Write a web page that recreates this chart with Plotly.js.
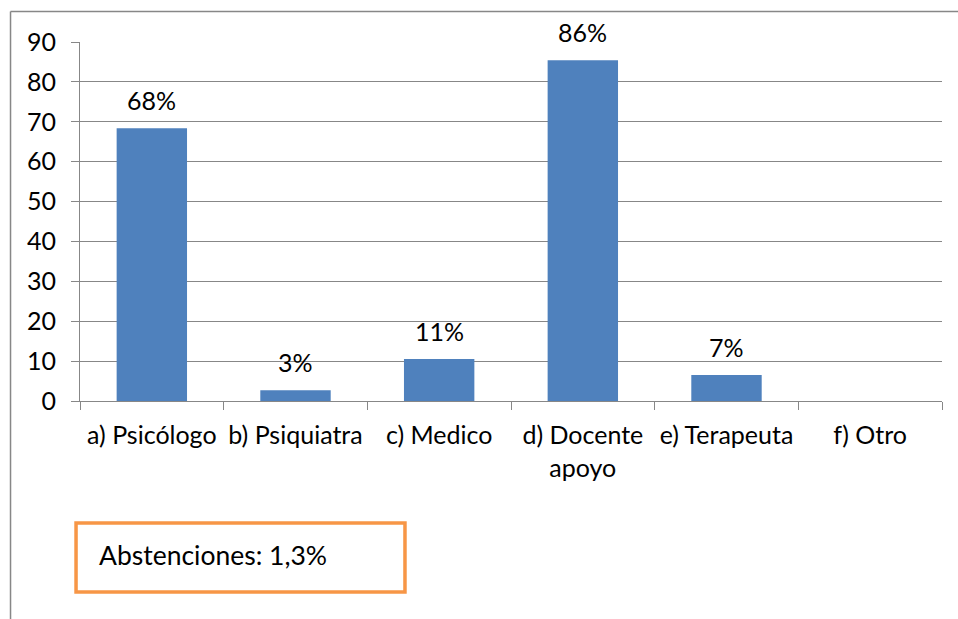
<!DOCTYPE html>
<html>
<head>
<meta charset="utf-8">
<script src="https://cdn.plot.ly/plotly-3.0.1.min.js"></script>
<style>html,body{margin:0;padding:0;background:#fff;}#chart{width:958px;height:619px;}</style>
</head>
<body>
<div id="chart"></div>
<script>
const categories = ["a) Psicólogo", "b) Psiquiatra", "c) Medico", "d) Docente<br>apoyo", "e) Terapeuta", "f) Otro"];
const values = [68.4, 2.7, 10.5, 85.4, 6.5, 0];
const labels = ["68%", "3%", "11%", "86%", "7%", ""];
const yTicks = [0, 10, 20, 30, 40, 50, 60, 70, 80, 90];
const noteText = "Abstenciones: 1,3%";

const FONT = "Lato, 'Open Sans', sans-serif";
const GRAY = "#878787";
const FS = 25;

const trace = {
  type: "bar",
  x: categories,
  y: values,
  marker: {color: "#4F81BD"},
  width: 0.49,
  hoverinfo: "skip"
};

const annotations = categories.map((c, i) => ({
  x: c, y: values[i], xref: "x", yref: "y",
  text: labels[i], showarrow: false,
  yanchor: "bottom", yshift: 11,
  font: {family: FONT, size: FS, color: "#000"}
})).filter(a => a.text !== "");

annotations.push({
  xref: "paper", yref: "paper",
  x: 0.0197, y: -0.429, xanchor: "left", yanchor: "middle",
  text: noteText, showarrow: false,
  font: {family: FONT, size: 26.5, color: "#000"}
});

const layout = {
  width: 958, height: 619,
  margin: {l: 80, r: 16, t: 42, b: 218},
  paper_bgcolor: "#fff", plot_bgcolor: "#fff",
  showlegend: false,
  font: {family: FONT, size: FS, color: "#000"},
  xaxis: {
    type: "category",
    tickson: "boundaries",
    ticks: "outside", ticklen: 8, tickcolor: GRAY, tickwidth: 1,
    showline: true, linecolor: GRAY, linewidth: 1,
    showgrid: false, zeroline: false,
    ticklabelstandoff: 12,
    tickfont: {family: FONT, size: FS, color: "#000"},
    fixedrange: true
  },
  yaxis: {
    range: [0, 90],
    tickvals: yTicks,
    ticks: "outside", ticklen: 8, tickcolor: GRAY, tickwidth: 1,
    showline: true, linecolor: GRAY, linewidth: 1,
    showgrid: true, gridcolor: GRAY, gridwidth: 1,
    zeroline: false,
    ticklabelstandoff: 10,
    tickfont: {family: FONT, size: FS, color: "#000"},
    fixedrange: true
  },
  shapes: [
    {type: "line", xref: "paper", yref: "paper", x0: -0.0806, x1: 1.0186, y0: 1.085, y1: 1.085, line: {color: GRAY, width: 1.5}},
    {type: "line", xref: "paper", yref: "paper", x0: -0.0806, x1: -0.0806, y0: 1.085, y1: -0.61, line: {color: GRAY, width: 1.5}},
    {type: "rect", xref: "paper", yref: "paper", x0: -0.0046, x1: 0.377, y0: -0.532, y1: -0.340, line: {color: "#F79646", width: 3.5}, fillcolor: "rgba(0,0,0,0)"}
  ],
  annotations: annotations
};

Plotly.newPlot("chart", [trace], layout, {displayModeBar: false, staticPlot: true});
</script>
</body>
</html>
